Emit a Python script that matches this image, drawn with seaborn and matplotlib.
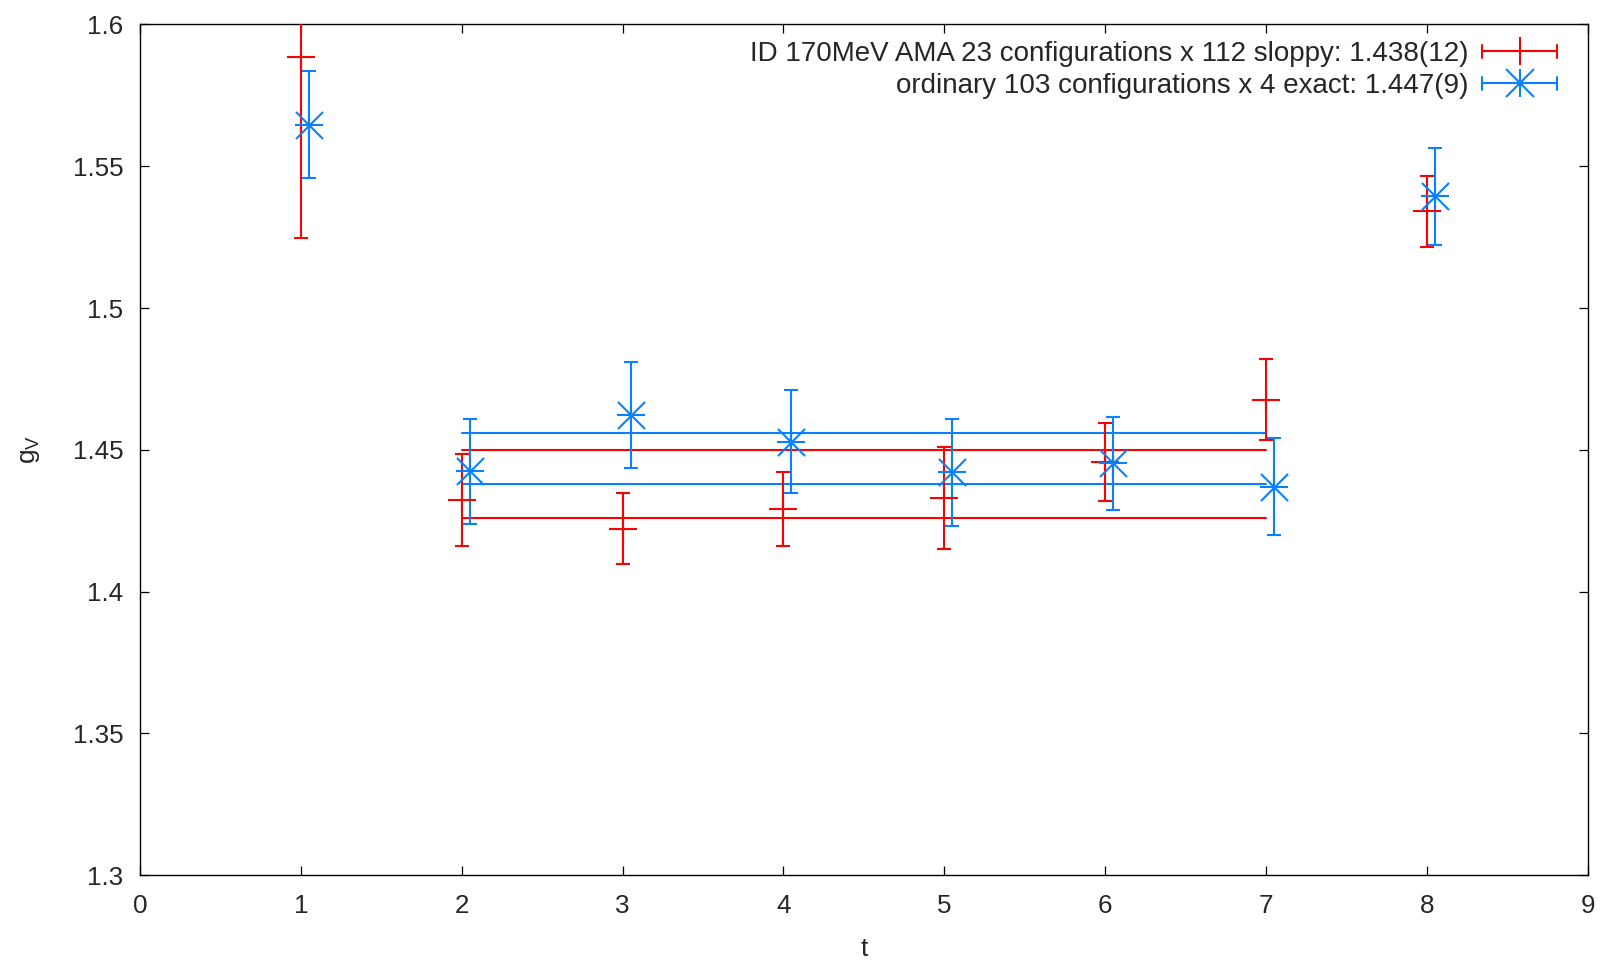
import matplotlib
matplotlib.use("Agg")
import matplotlib.pyplot as plt
from matplotlib.legend_handler import HandlerBase
from matplotlib.lines import Line2D
import pandas as pd
import seaborn as sns

# AMA: 23 configurations x 112 sloppy solves
t_ama = [1, 2, 3, 4, 5, 6, 7, 8]
g_ama = [1.5886, 1.4323, 1.4222, 1.4291, 1.4330, 1.4457, 1.4677, 1.5342]
e_ama = [0.0640, 0.0163, 0.0126, 0.0132, 0.0180, 0.0137, 0.0143, 0.0125]

# ordinary: 103 configurations x 4 exact solves (shifted slightly in t)
t_ord = [1.05, 2.05, 3.05, 4.05, 5.05, 6.05, 7.05, 8.05]
g_ord = [1.5647, 1.4424, 1.4622, 1.4529, 1.4420, 1.4453, 1.4370, 1.5394]
e_ord = [0.0190, 0.0186, 0.0186, 0.0182, 0.0190, 0.0164, 0.0171, 0.0171]

# constant fits over the plateau: central value and error
fit_range = [2, 7]
fit_ama = [1.438, 0.012]
fit_ord = [1.447, 0.009]

labels = [
    "ID 170MeV AMA 23 configurations x 112 sloppy: 1.438(12)",
    "ordinary 103 configurations x 4 exact: 1.447(9)",
]
x_ticks = [0, 1, 2, 3, 4, 5, 6, 7, 8, 9]
y_ticks = [1.3, 1.35, 1.4, 1.45, 1.5, 1.55, 1.6]
y_tick_labels = ["1.3", "1.35", "1.4", "1.45", "1.5", "1.55", "1.6"]

RED = "#ff0000"
BLUE = "#0a80ff"
LW = 1.5
MS = 19.5
CAP = 4.7
FS_TICK = 18.7
FS_KEY = 20

sns.set_theme(style="ticks")
plt.rcParams["font.family"] = ["Liberation Sans", "DejaVu Sans"]
plt.rcParams["mathtext.fontset"] = "custom"
plt.rcParams["mathtext.rm"] = "Liberation Sans"
plt.rcParams["mathtext.it"] = "Liberation Sans"

fig = plt.figure(figsize=(16.03, 9.60), dpi=100)
ax = fig.add_axes([0.0874, 0.0884, 0.9030, 0.8861])

# fit bands: upper and lower edge of each fitted constant
band_rows = []
for name, (c, e) in (("ama", fit_ama), ("ord", fit_ord)):
    for edge, val in (("lo", c - e), ("hi", c + e)):
        for t in fit_range:
            band_rows.append({"t": t, "g": val, "series": name, "edge": edge})
bands = pd.DataFrame(band_rows)
sns.lineplot(data=bands, x="t", y="g", hue="series", units="edge",
             estimator=None, palette={"ama": RED, "ord": BLUE},
             linewidth=LW, legend=False, ax=ax, zorder=2)

# data points with error bars
ax.errorbar(t_ama, g_ama, yerr=e_ama, fmt="none", ecolor=RED,
            elinewidth=LW, capsize=CAP, capthick=LW, zorder=3)
sns.scatterplot(x=t_ama, y=g_ama, marker="+", s=MS ** 2, color=RED,
                linewidth=LW, ax=ax, zorder=4)

ax.errorbar(t_ord, g_ord, yerr=e_ord, fmt="none", ecolor=BLUE,
            elinewidth=LW, capsize=CAP, capthick=LW, zorder=3)
for mk in ("+", "x"):
    sns.scatterplot(x=t_ord, y=g_ord, marker=mk, s=MS ** 2, color=BLUE,
                    linewidth=LW, ax=ax, zorder=4)

ax.set_xlim(0, 9)
ax.set_ylim(1.3, 1.6)
ax.set_xticks(x_ticks)
ax.set_xticklabels([str(v) for v in x_ticks])
ax.set_yticks(y_ticks)
ax.set_yticklabels(y_tick_labels)
ax.tick_params(axis="both", which="both", direction="in", length=6.5,
               width=0.9, color="black", labelsize=FS_TICK,
               top=True, right=True)
ax.tick_params(axis="y", pad=12)
ax.tick_params(axis="x", pad=13.5)
for sp in ax.spines.values():
    sp.set_color("black")
    sp.set_linewidth(1.0)

ax.set_xlabel("t", fontsize=19, labelpad=13.5)
ax.set_ylabel(r"$\mathrm{g_V}$", fontsize=19, labelpad=22)


class ErrorSampleHandler(HandlerBase):
    """Key sample: horizontal bar with end caps and the point marker."""

    def __init__(self, color, markers, **kw):
        super().__init__(**kw)
        self.color = color
        self.markers = markers

    def create_artists(self, legend, orig_handle, xdescent, ydescent,
                       width, height, fontsize, trans):
        y = height / 2 - ydescent
        x0 = -xdescent
        x1 = x0 + width
        arts = [
            Line2D([x0, x1], [y, y], color=self.color, lw=LW),
            Line2D([x0, x0], [y - CAP, y + CAP], color=self.color, lw=LW),
            Line2D([x1, x1], [y - CAP, y + CAP], color=self.color, lw=LW),
        ]
        for mk in self.markers:
            arts.append(Line2D([(x0 + x1) / 2], [y], marker=mk, ms=MS,
                               mew=LW, color=self.color, ls="none"))
        for a in arts:
            a.set_transform(trans)
        return arts


h_ama = Line2D([], [], color=RED, label=labels[0])
h_ord = Line2D([], [], color=BLUE, label=labels[1])
ax.legend(handles=[h_ama, h_ord], loc="upper right",
          bbox_to_anchor=(0.9789, 0.9805), frameon=False,
          markerfirst=False, fontsize=FS_KEY, handlelength=2.7,
          handletextpad=0.5, borderpad=0.0, borderaxespad=0.0,
          labelspacing=0.21,
          handler_map={h_ama: ErrorSampleHandler(RED, ["+"]),
                       h_ord: ErrorSampleHandler(BLUE, ["+", "x"])})

fig.savefig("out.png", dpi=100, facecolor="white")
